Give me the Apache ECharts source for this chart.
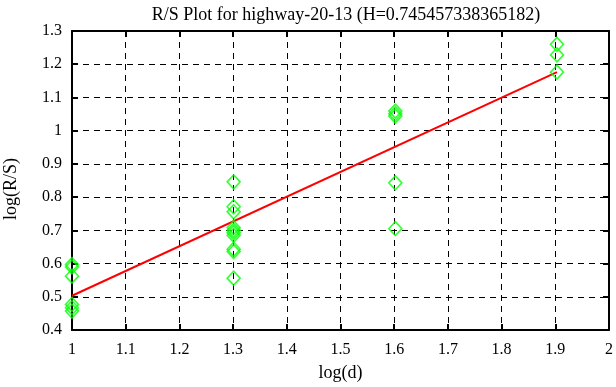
<!DOCTYPE html>
<html>
<head>
<meta charset="utf-8">
<script src="https://cdn.jsdelivr.net/npm/echarts@6/dist/echarts.min.js"></script>
<style>html,body{margin:0;padding:0;background:#fff}#c{width:616px;height:387px}</style>
</head>
<body>
<div id="c"></div>
<script>
var titleText = 'R/S Plot for highway-20-13 (H=0.745457338365182)';
var xName = 'log(d)';
var yName = 'log(R/S)';
var logD = [1, 1.30103, 1.60206, 1.90309];
var rsAt1 = [0.597, 0.590, 0.562, 0.477, 0.467, 0.457];
var rsAt2 = [0.846, 0.771, 0.756, 0.708, 0.700, 0.693, 0.685, 0.643, 0.636, 0.556];
var rsAt3 = [1.059, 1.051, 1.044, 0.843, 0.705];
var rsAt4 = [1.260, 1.228, 1.176];
var fitX = [1, 1.90309];
var fitY = [0.503, 1.176];

var groups = [rsAt1, rsAt2, rsAt3, rsAt4];
var pts = [];
groups.forEach(function (g, i) { g.forEach(function (v) { pts.push([logD[i], v]); }); });
var fit = fitX.map(function (x, i) { return [x, fitY[i]]; });

var font = 'Liberation Serif';
var chart = echarts.init(document.getElementById('c'));
var axisBase = {
  axisLine: { show: true, onZero: false, lineStyle: { color: '#000', width: 2 } },
  axisTick: { show: true, inside: true, length: 6, lineStyle: { color: '#000', width: 2 } },
  splitLine: { show: false }
};
function ax(o) { return Object.assign({}, JSON.parse(JSON.stringify(axisBase)), o); }
var dash = { color: '#000', type: [6, 5], width: 1 };
chart.setOption({
  animation: false,
  title: { text: titleText, left: 341, textAlign: 'center', top: 1,
    textStyle: { fontFamily: font, fontSize: 18, fontWeight: 'normal', color: '#000' } },
  grid: { left: 72, right: 6, top: 31, bottom: 56 },
  graphic: [{ type: 'text', x: 2, y: 189, rotation: Math.PI / 2,
    style: { text: yName, fontFamily: font, fontSize: 18, fill: '#000', align: 'center', verticalAlign: 'top' } }],
  xAxis: [
    ax({ type: 'value', min: 1, max: 2, interval: 0.1, position: 'bottom', name: xName, nameLocation: 'middle', nameGap: 34,
      nameTextStyle: { fontFamily: font, fontSize: 18, color: '#000' },
      axisLabel: { fontFamily: font, fontSize: 16, color: '#000', margin: 12 },
      splitLine: { show: true, lineStyle: dash } }),
    ax({ type: 'value', min: 1, max: 2, interval: 0.1, position: 'top', axisLabel: { show: false } })
  ],
  yAxis: [
    ax({ type: 'value', min: 0.4, max: 1.3, interval: 0.1, position: 'left',
      axisLabel: { fontFamily: font, fontSize: 16, color: '#000', margin: 10, padding: [7, 0, 0, 0] },
      splitLine: { show: true, lineStyle: dash } }),
    ax({ type: 'value', min: 0.4, max: 1.3, interval: 0.1, position: 'right', axisLabel: { show: false } })
  ],
  series: [
    { type: 'line', data: fit, symbol: 'none', lineStyle: { color: '#ff0000', width: 2 }, z: 3 },
    { type: 'scatter', data: pts, symbol: 'diamond', symbolSize: [13, 14],
      itemStyle: { color: 'rgba(0,0,0,0)', borderColor: '#00ff00', borderWidth: 1.6 }, z: 4 }
  ]
});
</script>
</body>
</html>
